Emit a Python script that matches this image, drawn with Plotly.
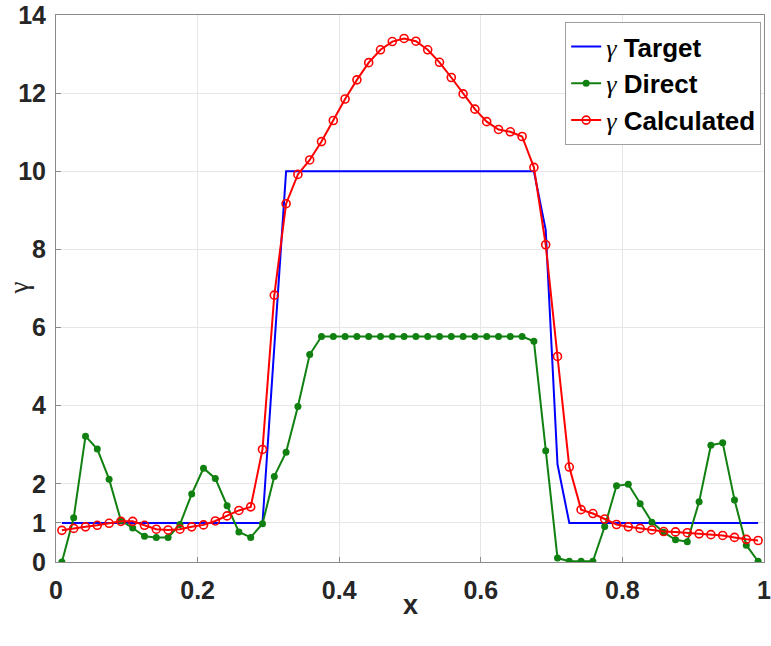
import numpy as np
import plotly.graph_objects as go

x = [(i + 0.5) / 60 for i in range(60)]

gamma_target = [1]*18 + [5.5] + [10]*22 + [8.5, 2.5] + [1]*17

gamma_direct = [0.0, 1.13, 3.22, 2.89, 2.12, 1.06, 0.87, 0.66, 0.63, 0.63,
                0.96, 1.74, 2.40, 2.14, 1.44, 0.77, 0.63, 0.98, 2.19, 2.81,
                3.98, 5.31, 5.77, 5.77, 5.77, 5.77, 5.77, 5.77, 5.77, 5.77,
                5.77, 5.77, 5.77, 5.77, 5.77, 5.77, 5.77, 5.77, 5.77, 5.77,
                5.65, 2.85, 0.10, 0.02, 0.02, 0.02, 0.91, 1.95, 1.99, 1.49,
                1.02, 0.76, 0.57, 0.52, 1.54, 2.99, 3.05, 1.59, 0.43, 0.02]

gamma_calc = [0.81, 0.86, 0.90, 0.94, 0.99, 1.04, 1.04, 0.94, 0.84, 0.82,
              0.84, 0.90, 0.95, 1.05, 1.18, 1.32, 1.41, 2.88, 6.83, 9.17,
              9.92, 10.29, 10.76, 11.30, 11.85, 12.34, 12.78, 13.11, 13.32, 13.40,
              13.33, 13.11, 12.79, 12.40, 11.98, 11.59, 11.27, 11.07, 11.01, 10.89,
              10.10, 8.12, 5.26, 2.43, 1.34, 1.24, 1.10, 0.96, 0.90, 0.86,
              0.82, 0.78, 0.77, 0.75, 0.72, 0.70, 0.68, 0.63, 0.58, 0.55]

x_ticks = [0, 0.2, 0.4, 0.6, 0.8, 1]
x_ticklabels = ["0", "0.2", "0.4", "0.6", "0.8", "1"]
y_ticks = [0, 1, 2, 4, 6, 8, 10, 12, 14]

G = "<span style='font-family:Liberation Serif;font-weight:normal'><i>γ</i></span>"

fig = go.Figure()
fig.add_trace(go.Scatter(x=x, y=gamma_target, mode="lines",
                         line=dict(color="#0000ff", width=2),
                         name=G + " <b>Target</b>"))
fig.add_trace(go.Scatter(x=x, y=gamma_direct, mode="lines+markers",
                         line=dict(color="#108010", width=2),
                         marker=dict(symbol="circle", size=7, color="#108010"),
                         name=G + " <b>Direct</b>"))
fig.add_trace(go.Scatter(x=x, y=gamma_calc, mode="lines+markers",
                         line=dict(color="#ff0000", width=2),
                         marker=dict(symbol="circle-open", size=8, color="#ff0000",
                                     line=dict(width=1.6, color="#ff0000")),
                         name=G + " <b>Calculated</b>"))

axis_common = dict(showline=True, mirror=True, linecolor="#8a8a8a", linewidth=1,
                   ticks="inside", ticklen=5, tickcolor="#8a8a8a",
                   showgrid=True, gridcolor="#e6e6e6", gridwidth=1, zeroline=False,
                   automargin=False, ticklabeloverflow="allow",
                   tickfont=dict(family="Liberation Sans, Arial", size=25,
                                 color="#262626", weight="bold"))

fig.update_xaxes(range=[0, 1], tickvals=x_ticks, ticktext=x_ticklabels,
                 ticklabelstandoff=6, **axis_common)
fig.update_yaxes(range=[0, 14], tickvals=y_ticks, ticklabelstandoff=4, **axis_common)

fig.add_annotation(text="x", xref="paper", yref="paper", x=0.5, y=0,
                   yanchor="middle", yshift=-43, showarrow=False,
                   font=dict(family="Liberation Sans, Arial", size=27, color="#262626",
                             weight="bold"))
fig.add_annotation(text="γ", xref="paper", yref="paper", x=0, y=0.50,
                   xanchor="center", yanchor="middle", textangle=-90,
                   xshift=-38, showarrow=False,
                   font=dict(family="Liberation Serif, serif", size=27, color="#262626"))

fig.update_layout(
    width=771, height=646,
    margin=dict(l=56, r=7, t=15, b=84),
    paper_bgcolor="white", plot_bgcolor="white",
    showlegend=True,
    legend=dict(x=0.996, y=0.987, xanchor="right", yanchor="top",
                bgcolor="white", bordercolor="#a0a0a0", borderwidth=1,
                font=dict(family="Liberation Sans, Arial", size=26, color="black"),
                itemwidth=30, tracegroupgap=0),
)

fig.write_html("out.html")
